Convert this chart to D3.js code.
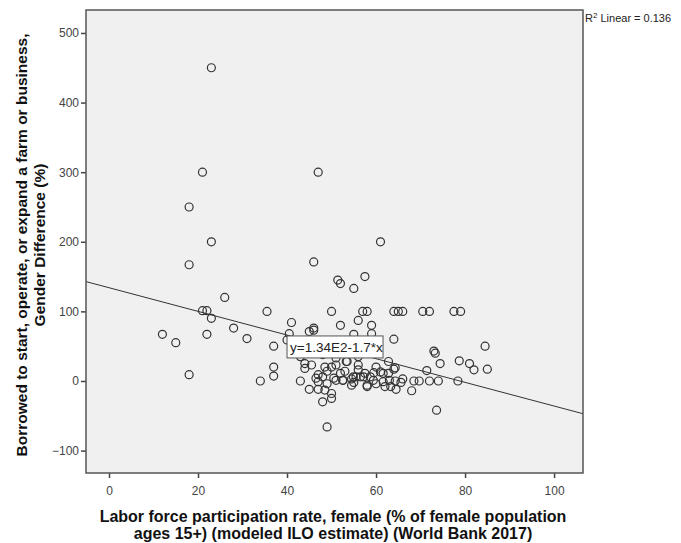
<!DOCTYPE html>
<html>
<head>
<meta charset="utf-8">
<script src="https://cdn.jsdelivr.net/npm/d3@7"></script>
<style>
  body { margin: 0; background: #fff; }
  text { font-family: Arial, "Liberation Sans", sans-serif; }
</style>
</head>
<body>
<script>
// scatter values
const xVals = [23, 21, 47, 18, 23, 61, 18, 46, 52, 55, 57.5, 51.4, 26,
  21, 22, 23, 35.5, 28, 31, 22, 12, 15, 41, 37, 52, 50, 57, 58,
  18, 37, 37, 34, 49, 40.5, 40, 46, 46, 45, 44, 44, 45.5, 43, 45, 47, 48, 50, 50, 48.5,
  47, 47, 49, 48, 48.5, 50, 51, 52, 51, 52.5, 53.5, 54.5, 56, 56, 55.5, 56.5, 58, 56,
  64, 65, 66, 70.5, 72, 77.5, 79, 59, 55, 59, 64, 84.5, 73, 73.3, 74.4, 78.7, 81, 82, 85,
  71.4, 78.4, 74, 72, 69.7, 68.5, 68, 65.6, 64.5, 64.3, 73.6, 62.8, 64, 64.3, 61.6, 62,
  60, 61, 61.6, 59.4, 58, 60, 58.7, 54.9, 52.6, 54.5, 53.3, 57.2, 57.5, 62.8, 63, 63.3,
  43, 48, 51, 54, 56, 49, 53, 46.5, 50.5, 55, 59.5, 66];
const yVals = [450, 300, 300, 250, 200, 200, 167, 171, 140, 133, 150, 145, 120,
  101, 101, 90, 100, 76, 61, 67, 67, 55, 84, 50, 80, 100, 100, 100,
  9, 20, 7, 0, -66, 68, 59, 76, 73, 71, 18, 25, 23, 0, -12, -12, -30, -25, -18, -13,
  9, -1, -4, 6, 20, 20, 23, 11, 1, 1, 28, 3, 23, 16, 6, 6, -8, 87,
  100, 100, 100, 100, 100, 100, 100, 80, 67, 68, 60, 50, 43, 40, 25, 29, 25, 16, 17,
  15, 0, 0, 0, 0, 0, -14, -2, -12, 0, -42, 28, 17, 19, -1, -8,
  20, 13, 11, 1, -6, -4, 6, 6, 1, -6, 28, 6, 11, 11, 1, -8,
  35, 38, 33, 40, 35, 14, 14, 4, 4, -2, 12, 3];
const xTicks = [0, 20, 40, 60, 80, 100];
const yTicks = [-100, 0, 100, 200, 300, 400, 500];
const fitA = 134, fitB = -1.7;   // y = 1.34E2 - 1.7*x
const fitLabel = 'y=1.34E2-1.7*x';
const rsqText = '0.136';

const width = 681, height = 543;
const pLeft = 86, pRight = 583, pTop = 10, pBottom = 473;

const svg = d3.select('body').append('svg')
  .attr('width', width)
  .attr('height', height);

const x = d3.scaleLinear().domain([-5.17, 106.5]).range([pLeft, pRight]);
const y = d3.scaleLinear().domain([-132.2, 533]).range([pBottom, pTop]);

// plot background
svg.append('rect')
  .attr('x', pLeft).attr('y', pTop)
  .attr('width', pRight - pLeft).attr('height', pBottom - pTop)
  .attr('fill', '#f0f0f0');

// fit line
const [d0, d1] = x.domain();
svg.append('line')
  .attr('x1', x(d0)).attr('y1', y(fitA + fitB * d0))
  .attr('x2', x(d1)).attr('y2', y(fitA + fitB * d1))
  .attr('stroke', '#333').attr('stroke-width', 1);

// points
svg.append('g')
  .selectAll('circle')
  .data(xVals.map((v, i) => [v, yVals[i]]))
  .join('circle')
    .attr('cx', d => x(d[0]))
    .attr('cy', d => y(d[1]))
    .attr('r', 4)
    .attr('fill', 'none')
    .attr('stroke', '#333')
    .attr('stroke-width', 1.2);

// equation label
const lab = svg.append('g').attr('transform', `translate(${x(40)},${y(64.7)})`);
lab.append('rect')
  .attr('width', 96).attr('height', 22)
  .attr('fill', '#fff').attr('stroke', '#555').attr('stroke-width', 1);
lab.append('text')
  .attr('x', 3).attr('y', 16)
  .attr('font-size', 13.5)
  .attr('fill', '#222')
  .text(fitLabel);

// axes
const xAxis = svg.append('g')
  .attr('transform', `translate(0,${pBottom})`)
  .call(d3.axisBottom(x).tickValues(xTicks).tickSize(5).tickPadding(8));
const yAxis = svg.append('g')
  .attr('transform', `translate(${pLeft},0)`)
  .call(d3.axisLeft(y).tickValues(yTicks).tickSize(5).tickPadding(2));
[xAxis, yAxis].forEach(a => {
  a.select('.domain').remove();
  a.selectAll('line').attr('stroke', '#444').attr('stroke-width', 1.5);
  a.selectAll('text').attr('font-size', 12).attr('fill', '#444')
    .attr('font-family', 'Arial, "Liberation Sans", sans-serif');
});

// frame
svg.append('rect')
  .attr('x', pLeft).attr('y', pTop)
  .attr('width', pRight - pLeft).attr('height', pBottom - pTop)
  .attr('fill', 'none').attr('stroke', '#555').attr('stroke-width', 1.5);

// R squared
const rs = svg.append('text')
  .attr('x', pRight + 2).attr('y', 22)
  .attr('font-size', 11).attr('fill', '#222');
rs.append('tspan').text('R');
rs.append('tspan').attr('dy', -4).attr('font-size', 8).text('2');
rs.append('tspan').attr('dy', 4).text(' Linear = ' + rsqText);

// axis titles
const xt = svg.append('text')
  .attr('text-anchor', 'middle')
  .attr('font-size', 16).attr('font-weight', 'bold').attr('fill', '#111');
xt.append('tspan').attr('x', 333).attr('y', 522)
  .text('Labor force participation rate, female (% of female population');
xt.append('tspan').attr('x', 333).attr('y', 539)
  .text('ages 15+) (modeled ILO estimate) (World Bank 2017)');

const yt = svg.append('text')
  .attr('transform', 'translate(0,245) rotate(-90)')
  .attr('text-anchor', 'middle')
  .attr('font-size', 15.5).attr('font-weight', 'bold').attr('fill', '#111');
yt.append('tspan').attr('x', 0).attr('y', 27)
  .text('Borrowed to start, operate, or expand a farm or business,');
yt.append('tspan').attr('x', 0).attr('y', 45)
  .text('Gender Difference (%)');
</script>
</body>
</html>
